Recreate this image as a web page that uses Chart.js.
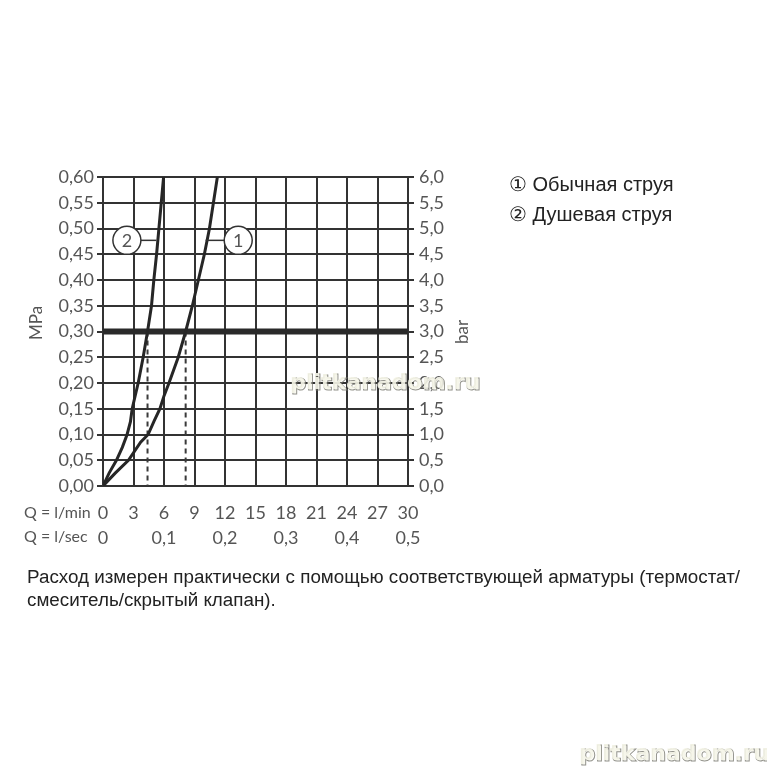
<!DOCTYPE html>
<html lang="ru">
<head>
<meta charset="utf-8">
<title>Расход</title>
<script src="https://cdn.jsdelivr.net/npm/chart.js@4.4.1/dist/chart.umd.min.js"></script>
<style>
    html, body { margin: 0; padding: 0; background: #fff; }
    #chart { display: block; }
</style>
</head>
<body>
<canvas id="chart" width="767" height="767"></canvas>
<script>
// curve 1 - Обычная струя, curve 2 - Душевая струя (Q in l/min, p in MPa)
const curve1Flow = [0, 1.2, 2.5, 3.7, 4.44, 5.0, 5.6, 6.0, 6.49, 7.4, 8.13, 8.79, 9.38, 9.97, 10.47, 10.86, 11.25];
const curve1Pressure = [0, 0.025, 0.05, 0.085, 0.10, 0.125, 0.15, 0.175, 0.20, 0.25, 0.30, 0.35, 0.40, 0.45, 0.50, 0.55, 0.60];
const curve2Flow = [0, 0.6, 1.32, 1.9, 2.37, 2.7, 2.87, 3.46, 3.95, 4.38, 4.77, 5.0, 5.27, 5.5, 5.73, 5.96];
const curve2Pressure = [0, 0.025, 0.05, 0.075, 0.10, 0.125, 0.15, 0.20, 0.25, 0.30, 0.35, 0.40, 0.45, 0.50, 0.55, 0.60];

// working pressure line and drop lines to the flow axis
const workPressure = 0.30;
const dropFlows = [4.38, 8.13];

const flowTicksMin = ['0', '3', '6', '9', '12', '15', '18', '21', '24', '27', '30'];
const flowTicksSec = ['0', '0,1', '0,2', '0,3', '0,4', '0,5'];
const pressureTicksMPa = ['0,00', '0,05', '0,10', '0,15', '0,20', '0,25', '0,30', '0,35', '0,40', '0,45', '0,50', '0,55', '0,60'];
const pressureTicksBar = ['0,0', '0,5', '1,0', '1,5', '2,0', '2,5', '3,0', '3,5', '4,0', '4,5', '5,0', '5,5', '6,0'];

// numbered callouts on the curves
const markerLabels = ['1', '2'];
const markerFlow = [13.3, 2.35];
const markerPressure = [0.477, 0.477];
const markerLeaderTo = [10.1, 5.25];

const legendItems = ['① Обычная струя', '② Душевая струя'];
const captionLines = [
    'Расход измерен практически с помощью соответствующей арматуры (термостат/',
    'смеситель/скрытый клапан).'
];
const watermark = 'plitkanadom.ru';

const ink = '#333333';
const labelColor = '#555555';
const tickFont = {family: 'Lato, "DejaVu Sans", sans-serif', size: 18};

function toPoints(xs, ys) {
    return xs.map((x, i) => ({x: x, y: ys[i]}));
}

let datasets = [
    {data: toPoints(curve1Flow, curve1Pressure), borderColor: '#262626', borderWidth: 3},
    {data: toPoints(curve2Flow, curve2Pressure), borderColor: '#262626', borderWidth: 3},
    {data: [{x: 0, y: workPressure}, {x: 30, y: workPressure}], borderColor: '#2a2a2a', borderWidth: 6}
];
dropFlows.forEach(f => {
    datasets.push({
        data: [{x: f, y: workPressure}, {x: f, y: 0}],
        borderColor: '#3a3a3a', borderWidth: 2, borderDash: [5, 4]
    });
});

const decorPlugin = {
    id: 'decor',
    afterDatasetsDraw(chart) {
        const ctx = chart.ctx;
        const xs = chart.scales.x;
        const ys = chart.scales.y;
        ctx.save();
        for (let i = 0; i < markerLabels.length; i++) {
            let cx = xs.getPixelForValue(markerFlow[i]);
            let cy = ys.getPixelForValue(markerPressure[i]);
            let lx = xs.getPixelForValue(markerLeaderTo[i]);
            let r = 14;
            ctx.strokeStyle = ink;
            ctx.lineWidth = 1.5;
            ctx.beginPath();
            if (lx > cx) {
                ctx.moveTo(cx + r, cy);
            } else {
                ctx.moveTo(cx - r, cy);
            }
            ctx.lineTo(lx, cy);
            ctx.stroke();
            ctx.beginPath();
            ctx.arc(cx, cy, r, 0, Math.PI * 2);
            ctx.fillStyle = '#fff';
            ctx.fill();
            ctx.stroke();
            ctx.fillStyle = labelColor;
            ctx.font = '18px ' + tickFont.family;
            ctx.textAlign = 'center';
            ctx.textBaseline = 'middle';
            ctx.fillText(markerLabels[i], cx, cy + 1);
        }
        ctx.restore();
    },
    afterDraw(chart) {
        const ctx = chart.ctx;
        ctx.save();
        ctx.fillStyle = labelColor;
        ctx.font = '16px ' + tickFont.family;
        ctx.textBaseline = 'middle';
        ctx.textAlign = 'left';
        ctx.fillText('Q = l/min', 24, 513);
        ctx.fillText('Q = l/sec', 24, 537);

        // axis titles
        ctx.font = '17px ' + tickFont.family;
        ctx.textAlign = 'center';
        ctx.save();
        ctx.translate(37, 323);
        ctx.rotate(-Math.PI / 2);
        ctx.fillText('MPa', 0, 0);
        ctx.restore();
        ctx.save();
        ctx.translate(463, 332);
        ctx.rotate(-Math.PI / 2);
        ctx.fillText('bar', 0, 0);
        ctx.restore();

        // legend
        ctx.textAlign = 'left';
        ctx.fillStyle = '#222';
        ctx.font = '20px "Liberation Sans", Arial, sans-serif';
        legendItems.forEach((t, i) => {
            ctx.fillText(t, 509, 185 + i * 30);
        });

        // caption, stretched to the width of the original line
        ctx.font = '18px "Liberation Sans Narrow", "Liberation Sans", sans-serif';
        let sx = 713 / ctx.measureText(captionLines[0]).width;
        ctx.save();
        ctx.translate(27, 0);
        ctx.scale(sx, 1);
        captionLines.forEach((t, i) => {
            ctx.fillText(t, 0, 578 + i * 23);
        });
        ctx.restore();

        // watermarks
        ctx.font = 'bold 22px "DejaVu Sans", sans-serif';
        ctx.lineWidth = 1;
        ctx.fillStyle = 'rgba(245,245,232,0.9)';
        ctx.strokeStyle = 'rgba(120,120,110,0.8)';
        ctx.strokeText(watermark, 291, 384);
        ctx.fillText(watermark, 290, 383);
        ctx.strokeText(watermark, 580, 755);
        ctx.fillText(watermark, 579, 754);
        ctx.restore();
    }
};

new Chart(document.getElementById('chart'), {
    type: 'line',
    data: {datasets: datasets},
    plugins: [decorPlugin],
    options: {
        responsive: false,
        devicePixelRatio: 1,
        animation: false,
        events: [],
        layout: {padding: {left: 0, top: 177, right: 0, bottom: 203}},
        elements: {
            point: {radius: 0},
            line: {tension: 0, fill: false}
        },
        plugins: {
            legend: {display: false},
            tooltip: {enabled: false}
        },
        scales: {
            x: {
                type: 'linear',
                position: 'bottom',
                min: 0,
                max: 30,
                weight: 0,
                afterFit: scale => { scale.height = 38; },
                border: {display: true, color: ink, width: 2},
                grid: {color: ink, lineWidth: 2, drawTicks: false},
                ticks: {
                    stepSize: 3,
                    padding: 16,
                    color: labelColor,
                    font: tickFont,
                    maxRotation: 0,
                    callback: (v, i) => flowTicksMin[i]
                }
            },
            x2: {
                type: 'linear',
                position: 'bottom',
                min: 0,
                max: 0.5,
                weight: 1,
                afterFit: scale => { scale.height = 40; },
                border: {display: false},
                grid: {display: false},
                ticks: {
                    stepSize: 0.1,
                    padding: -5,
                    color: labelColor,
                    font: tickFont,
                    maxRotation: 0,
                    callback: (v, i) => flowTicksSec[i]
                }
            },
            y: {
                type: 'linear',
                position: 'left',
                min: 0,
                max: 0.6,
                afterFit: scale => { scale.width = 103; },
                border: {display: true, color: ink, width: 2},
                grid: {color: ink, lineWidth: 2, tickLength: 6},
                ticks: {
                    stepSize: 0.05,
                    padding: 3,
                    color: labelColor,
                    font: tickFont,
                    callback: (v, i) => pressureTicksMPa[i]
                }
            },
            y2: {
                type: 'linear',
                position: 'right',
                min: 0,
                max: 6,
                afterFit: scale => { scale.width = 359; },
                border: {display: true, color: ink, width: 2},
                grid: {color: ink, lineWidth: 2, tickLength: 6, drawOnChartArea: false},
                ticks: {
                    stepSize: 0.5,
                    padding: 5,
                    color: labelColor,
                    font: tickFont,
                    callback: (v, i) => pressureTicksBar[i]
                }
            }
        }
    }
});
</script>
</body>
</html>
